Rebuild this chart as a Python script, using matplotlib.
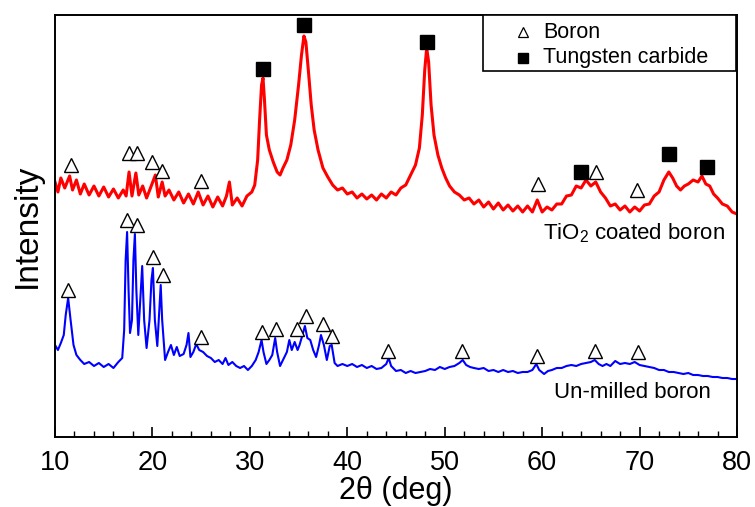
import matplotlib
matplotlib.use("Agg")
import matplotlib.pyplot as plt
from matplotlib.patches import Rectangle

# ---------------- data (2theta in deg, intensity in arbitrary units) ----------------
red_x = [10.0, 10.3, 10.6, 11.0, 11.5, 11.8, 12.2, 12.6, 13.0, 13.5, 14.0, 14.5, 15.0, 15.5,
         16.0, 16.5, 17.0, 17.3, 17.6, 17.9, 18.3, 18.6, 19.0, 19.4, 19.8, 20.3, 20.6, 21.0,
         21.3, 21.7, 22.2, 22.7, 23.2, 23.7, 24.2, 24.7, 25.2, 25.7, 26.2, 26.7, 27.2, 27.6,
         27.9, 28.2, 28.7, 29.2, 29.7, 30.2, 30.5, 30.8, 31.0, 31.2, 31.35, 31.5, 31.7, 32.0,
         32.4, 32.8, 33.1, 33.4, 33.8, 34.2, 34.6, 35.0, 35.3, 35.55, 35.75, 36.0, 36.3, 36.6,
         37.0, 37.5, 38.0, 38.5, 39.0, 39.5, 40.0, 40.5, 41.0, 41.5, 42.0, 42.5, 43.0, 43.5,
         44.0, 44.5, 45.0, 45.5, 46.0, 46.5, 47.0, 47.4, 47.7, 47.95, 48.15, 48.35, 48.6, 48.9,
         49.3, 49.7, 50.1, 50.5, 51.0, 51.5, 52.0, 52.5, 53.0, 53.5, 54.0, 54.5, 55.0, 55.5,
         56.0, 56.5, 57.0, 57.5, 58.0, 58.5, 59.0, 59.5, 60.0, 60.5, 61.0, 61.5, 62.0, 62.5,
         63.0, 63.5, 64.0, 64.5, 65.0, 65.5, 66.0, 66.5, 67.0, 67.5, 68.0, 68.5, 69.0, 69.5,
         70.0, 70.5, 71.0, 71.5, 72.0, 72.5, 73.0, 73.4, 73.8, 74.2, 74.6, 75.0, 75.5, 76.0,
         76.4, 76.8, 77.2, 77.6, 78.0, 78.5, 79.0, 79.5, 80.0]
red_y = [255, 245, 259, 249, 261, 247, 257, 243, 253, 242, 251, 241, 250, 240,
         248, 239, 247, 241, 265, 241, 264, 242, 251, 239, 249, 262, 240, 255,
         241, 247, 237, 245, 234, 243, 233, 245, 232, 241, 230, 240, 231, 241,
         255, 232, 239, 231, 241, 245, 252, 277, 317, 352, 359, 337, 302, 287,
         275, 265, 262, 269, 277, 292, 317, 352, 382, 401, 395, 367, 332, 307,
         287, 269, 260, 252, 247, 249, 243, 245, 239, 243, 238, 242, 237, 243,
         239, 245, 242, 249, 252, 262, 272, 289, 322, 367, 389, 375, 332, 302,
         282, 269, 259, 251, 245, 242, 237, 239, 233, 237, 230, 235, 228, 234,
         227, 232, 226, 231, 225, 231, 225, 237, 225, 230, 227, 233, 233, 241,
         242, 251, 249, 257, 251, 255, 245, 239, 231, 233, 227, 231, 225, 230,
         226, 232, 233, 241, 245, 257, 265, 259, 251, 247, 251, 253, 257, 255,
         261, 253, 251, 243, 239, 233, 231, 225, 223]

blue_x = [10.0, 10.3, 10.6, 10.9, 11.1, 11.35, 11.6, 11.9, 12.2, 12.6, 13.0, 13.5, 14.0, 14.5,
          15.0, 15.5, 16.0, 16.5, 16.9, 17.1, 17.25, 17.4, 17.55, 17.7, 17.9, 18.05, 18.2, 18.35,
          18.55, 18.75, 18.95, 19.15, 19.4, 19.7, 19.9, 20.05, 20.25, 20.5, 20.7, 20.85, 21.0,
          21.3, 21.6, 21.9, 22.2, 22.5, 22.8, 23.2, 23.5, 23.7, 23.9, 24.2, 24.5, 24.8, 25.2,
          25.6, 26.0, 26.4, 26.8, 27.2, 27.5, 27.8, 28.2, 28.6, 29.0, 29.4, 29.8, 30.2, 30.6,
          30.9, 31.2, 31.4, 31.7, 32.0, 32.3, 32.6, 32.8, 33.1, 33.5, 33.8, 34.05, 34.3, 34.6,
          34.9, 35.1, 35.4, 35.65, 35.9, 36.2, 36.5, 36.8, 37.1, 37.3, 37.6, 37.9, 38.2, 38.4,
          38.7, 39.0, 39.5, 40.0, 40.5, 41.0, 41.5, 42.0, 42.5, 43.0, 43.5, 44.0, 44.25, 44.5,
          45.0, 45.5, 46.0, 46.5, 47.0, 47.5, 48.0, 48.5, 49.0, 49.5, 50.0, 50.5, 51.0, 51.5,
          51.85, 52.2, 52.6, 53.0, 53.5, 54.0, 54.5, 55.0, 55.5, 56.0, 56.5, 57.0, 57.5, 58.0,
          58.5, 59.0, 59.4, 59.7, 60.2, 60.6, 61.0, 61.5, 62.0, 62.5, 63.0, 63.5, 64.0, 64.5,
          65.0, 65.4, 65.8, 66.2, 66.6, 67.0, 67.5, 68.0, 68.5, 69.0, 69.5, 70.0, 70.5, 71.0,
          71.5, 72.0, 72.5, 73.0, 73.5, 74.0, 74.5, 75.0, 75.5, 76.0, 76.5, 77.0, 77.5, 78.0,
          78.5, 79.0, 79.5, 80.0]
blue_y = [92, 87, 94, 102, 122, 139, 117, 92, 82, 77, 73, 75, 71, 74,
          70, 73, 69, 75, 79, 107, 177, 205, 147, 104, 117, 177, 203, 147,
          102, 137, 171, 117, 89, 117, 157, 169, 117, 91, 127, 152, 117,
          77, 85, 92, 82, 90, 81, 83, 92, 104, 80, 85, 93, 87, 85,
          81, 79, 75, 77, 73, 79, 72, 75, 71, 69, 71, 67, 71, 77,
          85, 97, 85, 73, 77, 82, 99, 85, 71, 79, 85, 97, 87, 95,
          87, 92, 102, 111, 99, 97, 87, 80, 92, 102, 92, 77, 91, 92,
          74, 71, 73, 71, 73, 70, 72, 69, 71, 68, 69, 73, 79, 71,
          66, 67, 64, 66, 64, 65, 66, 68, 67, 70, 68, 70, 71, 74,
          77, 72, 70, 69, 68, 69, 66, 67, 65, 67, 65, 66, 64, 65,
          65, 67, 73, 67, 63, 66, 67, 69, 69, 71, 72, 71, 73, 74,
          75, 77, 73, 71, 73, 71, 76, 73, 74, 73, 75, 72, 71, 70,
          69, 67, 67, 65, 65, 64, 63, 64, 62, 62, 61, 61, 60, 60,
          59, 59, 58, 58]

# phase markers
red_boron_x = [11.67, 17.56, 18.45, 20.0, 21.0, 24.95, 59.54, 65.5, 69.74]
red_boron_y = [272, 284, 284, 275, 266, 256, 253, 265, 247]
wc_x = [31.3, 35.6, 48.2, 63.95, 73.0, 76.95]
wc_y = [368, 412, 395, 265, 283, 270]
blue_boron_x = [11.37, 17.36, 18.45, 20.09, 21.05, 24.95, 31.2, 32.7, 34.8, 35.73,
                37.54, 38.4, 44.2, 51.8, 59.47, 65.46, 69.84]
blue_boron_y = [147, 217, 212, 180, 162, 100, 105, 108, 108, 121,
                113, 101, 86, 86, 81, 86, 85]

legend_labels = ["Boron", "Tungsten carbide"]
trace_labels = ["TiO$_2$ coated boron", "Un-milled boron"]
label_pos_x = [60.1, 61.2]
label_pos_y = [204, 44]

# ---------------- plotting ----------------
plt.rcParams["font.family"] = ["Liberation Sans", "DejaVu Sans"]
plt.rcParams["mathtext.default"] = "regular"

fig = plt.figure(figsize=(7.55, 5.07), dpi=100)
ax = fig.add_axes([55 / 755, 70 / 507, 682 / 755, 422 / 507])

ax.plot(red_x, red_y, color="#ff0000", lw=2.2, zorder=2)
ax.plot(blue_x, blue_y, color="#0000ff", lw=1.5, zorder=2)

ax.plot(red_boron_x, red_boron_y, ls="none", marker="^", ms=10, mfc="white",
        mec="black", mew=1.0, zorder=3)
ax.plot(blue_boron_x, blue_boron_y, ls="none", marker="^", ms=10, mfc="white",
        mec="black", mew=1.0, zorder=3)
ax.plot(wc_x, wc_y, ls="none", marker="s", ms=9.5, mfc="black", mec="black", zorder=3)

for t, x, y in zip(trace_labels, label_pos_x, label_pos_y):
    ax.text(x, y, t, fontsize=16, ha="left", va="center", color="black")

ax.set_xlim(10, 80)
ax.set_ylim(0, 422)
ax.set_xticks(range(10, 81, 10))
ax.set_xticks(range(12, 80, 2), minor=True)
ax.set_yticks([])
ax.tick_params(axis="x", which="major", direction="in", length=7, width=1.2,
               labelsize=19.5, pad=9)
ax.tick_params(axis="x", which="minor", direction="in", length=4, width=1.0)
for s in ax.spines.values():
    s.set_linewidth(1.4)

ax.set_xlabel("2θ (deg)", fontsize=22, labelpad=0)
ax.set_ylabel("Intensity", fontsize=24, labelpad=9)

# legend box (upper right, attached to the axes corner)
tr = ax.transAxes
ax.add_patch(Rectangle((0.6276, 0.8673), 0.3709, 0.1327, transform=tr,
                       facecolor="white", edgecolor="black", lw=1.2, zorder=5))
ax.plot([0.6862], [0.9597], transform=tr, ls="none", marker="^", ms=6.5,
        mfc="white", mec="black", mew=0.9, zorder=6)
ax.plot([0.6862], [0.8985], transform=tr, ls="none", marker="s", ms=6.5,
        mfc="black", mec="black", zorder=6)
ax.text(0.7155, 0.9597, legend_labels[0], transform=tr, fontsize=15.5,
        ha="left", va="center", zorder=6)
ax.text(0.7155, 0.8985, legend_labels[1], transform=tr, fontsize=15.5,
        ha="left", va="center", zorder=6)

fig.savefig("out.png", dpi=100)
